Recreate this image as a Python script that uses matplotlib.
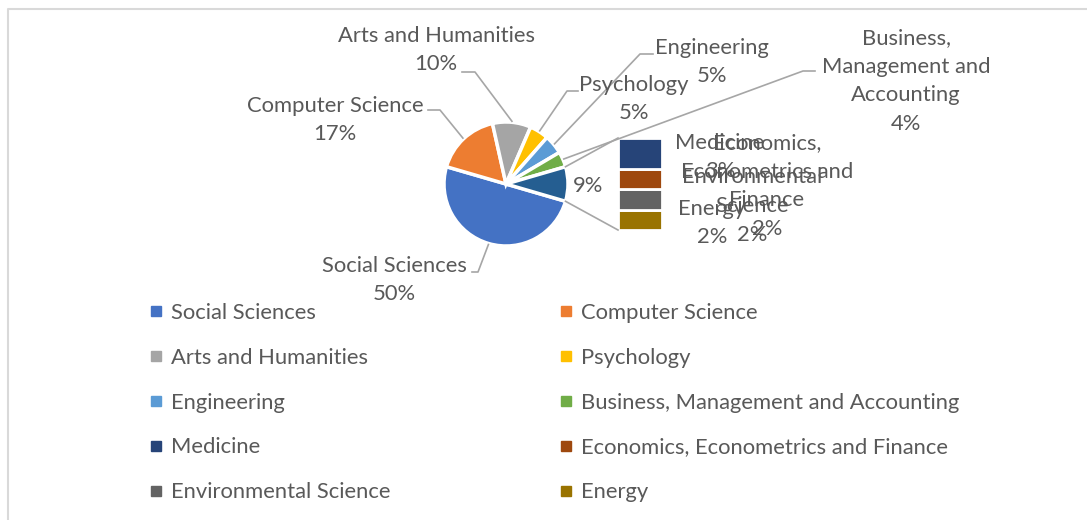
import numpy as np
import matplotlib
matplotlib.use("Agg")
import matplotlib.pyplot as plt
from matplotlib.lines import Line2D

W, H = 1087, 520

# ---------------------------------------------------------------------------
# data (read off the Excel "bar of pie" chart)
# ---------------------------------------------------------------------------
categories = ["Social Sciences", "Computer Science", "Arts and Humanities", "Psychology",
              "Engineering", "Business, Management and Accounting", "Medicine",
              "Economics, Econometrics and Finance", "Environmental Science", "Energy"]
# how the labels are wrapped on the chart
label_names = ["Social Sciences", "Computer Science", "Arts and Humanities", "Psychology",
               "Engineering", "Business,\nManagement and\nAccounting", "Medicine",
               "Economics,\nEconometrics and\nFinance", "Environmental\nScience", "Energy"]
shares = [50, 17, 10, 5, 5, 4, 3, 2, 2, 2]
n_pie = 6          # first six are pie slices, the rest are split out into the bar
colors = ["#4472C4", "#ED7D31", "#A5A5A5", "#FFC000", "#5B9BD5", "#70AD47",
          "#264478", "#9E480E", "#636363", "#997300"]
other_color = "#255E91"

TXT = "#595959"
LEAD = "#A6A6A6"
FS = 15.8
LS = 1.55
plt.rcParams["font.family"] = ["Lato", "DejaVu Sans"]


def py(y):
    # pixel row (from top) -> data y
    return H - y


fig = plt.figure(figsize=(W / 100, H / 100), dpi=100)
ax = fig.add_axes([0, 0, 1, 1])

# ---- pie -----------------------------------------------------------------
pie_vals = shares[:n_pie] + [sum(shares[n_pie:])]
cx, cy, r = 506, py(184), 62
start = -pie_vals[-1] / sum(pie_vals) * 360 / 2      # "other" slice centred on 3 o'clock
wedges, _ = ax.pie(pie_vals, colors=colors[:n_pie] + [other_color], center=(cx, cy),
                   radius=r, startangle=start, counterclock=False, frame=True,
                   wedgeprops=dict(edgecolor="white", linewidth=2.5))

# ---- bar of the split-out slices ------------------------------------------
bar_vals = shares[n_pie:]
bx, bw = 640, 44
bar_top, bar_bot = py(138), py(230)
scale = (bar_top - bar_bot) / sum(bar_vals)
bottom = bar_bot
for v, c in reversed(list(zip(bar_vals, colors[n_pie:]))):
    ax.bar(bx, v * scale, width=bw, bottom=bottom, color=c, edgecolor="white", linewidth=2)
    bottom += v * scale

# series lines from the "other" slice to the bar
ow = wedges[-1]
for ang, yb in [(ow.theta2, bar_top), (ow.theta1, bar_bot)]:
    a = np.deg2rad(ang)
    ax.plot([cx + r * np.cos(a), bx - bw / 2], [cy + r * np.sin(a), yb], color=LEAD, lw=1.2)

# ---- data labels with leader lines ----------------------------------------
# (text centre, knee of leader, end of leader) in pixel coords
pie_label_layout = [
    ((394, 280), (478, 272), (472, 272)),
    ((335, 120), (440, 110), (428, 110)),
    ((436, 50), (475, 72), (462, 72)),
    ((634, 99), (567, 91), (578, 91)),
    ((712, 62), (640, 54), (653, 54)),
    ((906, 81), (803, 71), (815, 71)),
]
for i, ((tx, ty), knee, end) in enumerate(pie_label_layout):
    w = wedges[i]
    a = np.deg2rad((w.theta1 + w.theta2) / 2)
    sx, sy = cx + (r + 1) * np.cos(a), cy + (r + 1) * np.sin(a)
    ax.plot([sx, knee[0], end[0]], [sy, py(knee[1]), py(end[1])], color=LEAD, lw=1.2)
    ax.text(tx, py(ty), f"{label_names[i]}\n{shares[i]}%", ha="center", va="center",
            multialignment="center", fontsize=FS, color=TXT, linespacing=LS)

ax.text(588, py(186), f"{pie_vals[-1]}%", ha="center", va="center", fontsize=FS, color=TXT)

bar_label_pos = [(720, 157), (767, 186), (752, 206), (712, 223)]
for j, (tx, ty) in enumerate(bar_label_pos):
    i = n_pie + j
    ax.text(tx, py(ty), f"{label_names[i]}\n{shares[i]}%", ha="center", va="center",
            multialignment="center", fontsize=FS, color=TXT, linespacing=LS)

# ---- legend (row-wise order, two columns) ----------------------------------
handles = [Line2D([], [], marker="s", ls="none", markersize=6.5, color=c) for c in colors]
order = list(range(0, len(categories), 2)) + list(range(1, len(categories), 2))
ax.legend([handles[i] for i in order], [categories[i] for i in order], ncol=2,
          loc="upper left", bbox_to_anchor=(150, py(303)), bbox_transform=ax.transData,
          frameon=False, fontsize=FS, labelcolor=TXT, handlelength=0.55,
          handletextpad=0.4, columnspacing=7.73, labelspacing=1.13, borderaxespad=0,
          borderpad=0)

# chart-area border (only top and left edges are visible in the crop)
ax.plot([8, 8, W], [0, py(9), py(9)], color="#D9D9D9", lw=1.5)

ax.set_xlim(0, W)
ax.set_ylim(0, H)
ax.set_aspect("equal")
ax.axis("off")

fig.savefig("out.png", dpi=100)
